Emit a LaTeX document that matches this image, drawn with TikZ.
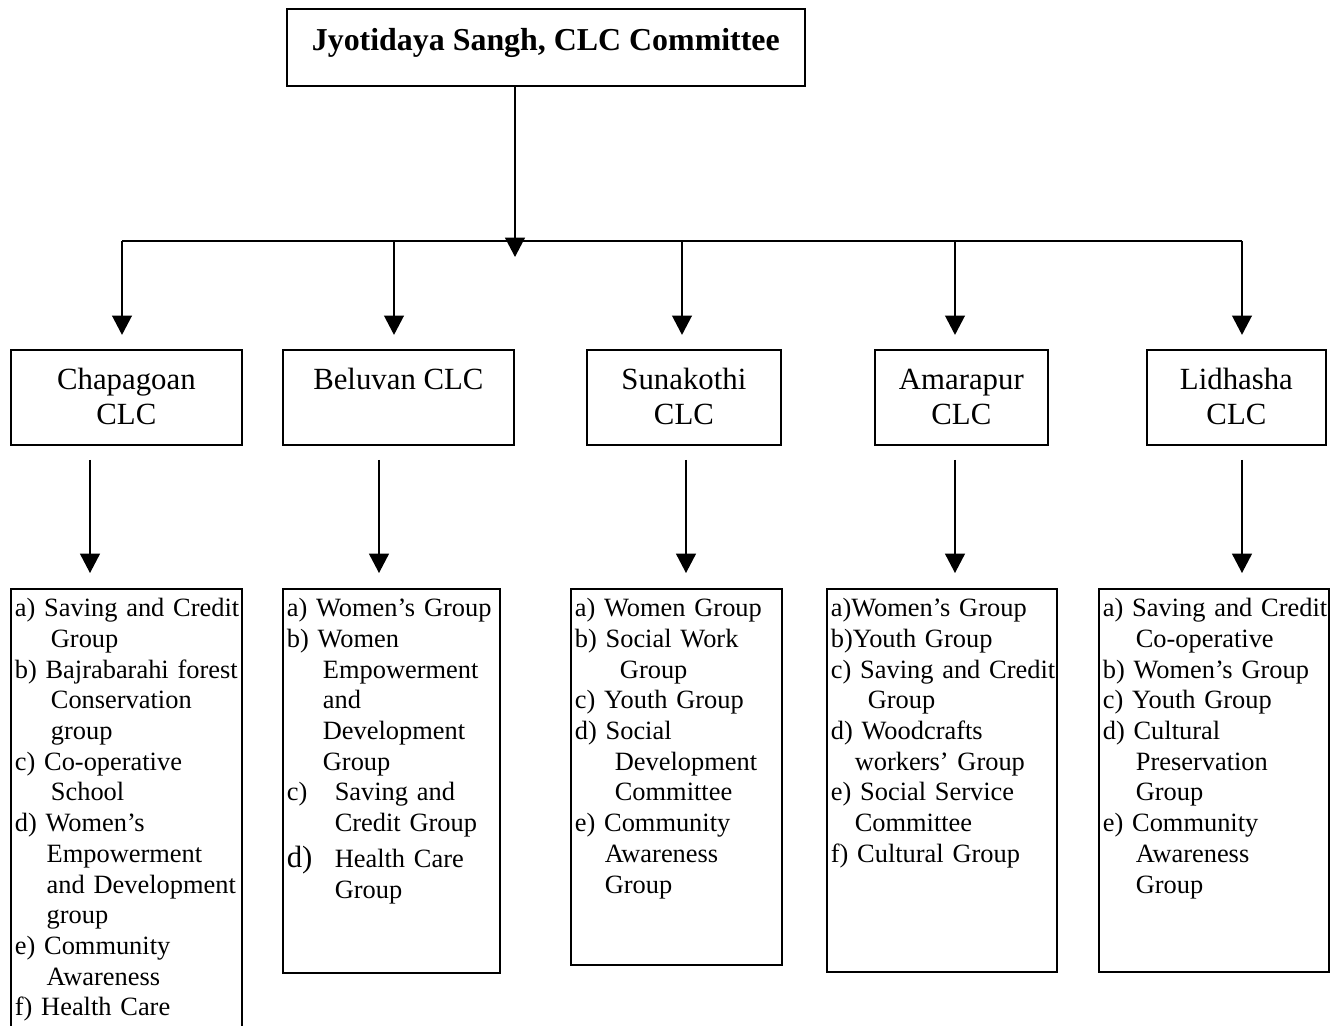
\documentclass[tikz,border=0pt]{standalone}
\usepackage{fontspec}
\setmainfont{Liberation Serif}
\usetikzlibrary{arrows.meta}
\newcommand{\ind}[1]{\hspace*{#1}}

\begin{document}
\begin{tikzpicture}[x=0.4545pt,y=-0.4545pt,
        box/.style={draw,line width=0.8pt,inner sep=0pt,anchor=north west},
        clc/.style={box,align=center,minimum width=#1,text height=33.7pt,text depth=9.5pt,
          font=\fontsize{14}{15.5}\selectfont},
        oneline/.style={text height=18.2pt,text depth=25pt},
        grp/.style 2 args={box,inner xsep=1.8pt,align=left,text width=#1,
          text height=12.7pt,text depth=#2,font=\fontsize{12}{13.95}\selectfont},
        arr/.style={line width=0.8pt,-{Triangle[length=8.8pt,width=9pt]}}]

  \useasboundingbox (0,0) rectangle (1338,1026);

  \node[box,minimum width=235.4pt,text height=19.1pt,text depth=15.9pt,
        font=\fontsize{14.5}{17}\selectfont\bfseries] (top) at (286,8)
        {Jyotidaya Sangh, CLC Committee};

  \node[clc=105pt]         (chap) at (10,349)   {Chapagoan\\CLC};
  \node[clc=105pt,oneline] (belu) at (282,349)  {Beluvan CLC};
  \node[clc=88.2pt]        (suna) at (586,349)  {Sunakothi\\CLC};
  \node[clc=78.6pt]        (amar) at (874,349)  {Amarapur\\CLC};
  \node[clc=81.4pt]        (lidh) at (1146,349) {Lidhasha\\CLC};

  \node[grp={101.4pt}{192.7pt}] (grpchap) at (10,588)
    {\mbox{a) Saving and Credit}\\ \ind{16.4pt}Group\\ \mbox{b) Bajrabarahi forest}\\
     \ind{16.4pt}Conservation\\ \ind{16.4pt}group\\ c) Co-operative\\
     \ind{16.4pt}School\\ d) Women’s\\ \ind{14.5pt}Empowerment\\
     \ind{14.5pt}\mbox{and Development}\\ \ind{14.5pt}group\\ e) Community\\
     \ind{14.5pt}Awareness\\ f) Health Care};
  \node[grp={95pt}{161.8pt}] (grpbelu) at (282,588)
    {\mbox{a) Women’s Group}\\ b) Women\\ \ind{16.4pt}Empowerment\\ \ind{16.4pt}and\\
     \ind{16.4pt}Development\\ \ind{16.4pt}Group\\ \makebox[21.8pt][l]{c)}Saving and\\
     \ind{21.8pt}Credit Group\\[2.3pt]
     \makebox[21.8pt][l]{\fontsize{14}{16}\selectfont d)}Health Care\\ \ind{21.8pt}Group};
  \node[grp={92.3pt}{158.2pt}] (grpsuna) at (570,588)
    {a) Women Group\\ b) Social Work\\ \ind{20.5pt}Group\\ c) Youth Group\\
     d) Social\\ \ind{18.2pt}Development\\ \ind{18.2pt}Committee\\ e) Community\\
     \ind{13.6pt}Awareness\\ \ind{13.6pt}Group};
  \node[grp={100.9pt}{161.4pt}] (grpamar) at (826,588)
    {a)Women’s Group\\ b)Youth Group\\ \mbox{c) Saving and Credit}\\ \ind{16.8pt}Group\\
     d) Woodcrafts\\ \ind{10.9pt}workers’ Group\\ e) Social Service\\
     \ind{10.9pt}Committee\\ f) Cultural Group};
  \node[grp={100.9pt}{161.4pt}] (grplidh) at (1098,588)
    {\mbox{a) Saving and Credit}\\ \ind{15pt}Co-operative\\ b) Women’s Group\\ c) Youth Group\\
     d) Cultural\\ \ind{15pt}Preservation\\ \ind{15pt}Group\\ e) Community\\
     \ind{15pt}Awareness\\ \ind{15pt}Group};

  \coordinate (hub) at (515,257);
  \coordinate (busl) at (122,241);
  \coordinate (busr) at (1242,241);
  \draw[line width=0.8pt] (busl) -- (busr);
  \draw[arr] (top.south -| hub) -- (hub);

  \foreach \n/\x in {chap/122,belu/394,suna/682,amar/955,lidh/1242}{
    \coordinate (b\n) at (\x,241);
    \draw[arr,shorten >=6.4pt] (b\n) -- (b\n |- \n.north);
  }
  \foreach \n/\x in {chap/90,belu/379,suna/686,amar/955,lidh/1242}{
    \coordinate (d\n) at (\x,0);
    \draw[arr,shorten <=6.4pt,shorten >=6.8pt] (d\n |- \n.south) -- (d\n |- grp\n.north);
  }

\end{tikzpicture}
\end{document}
